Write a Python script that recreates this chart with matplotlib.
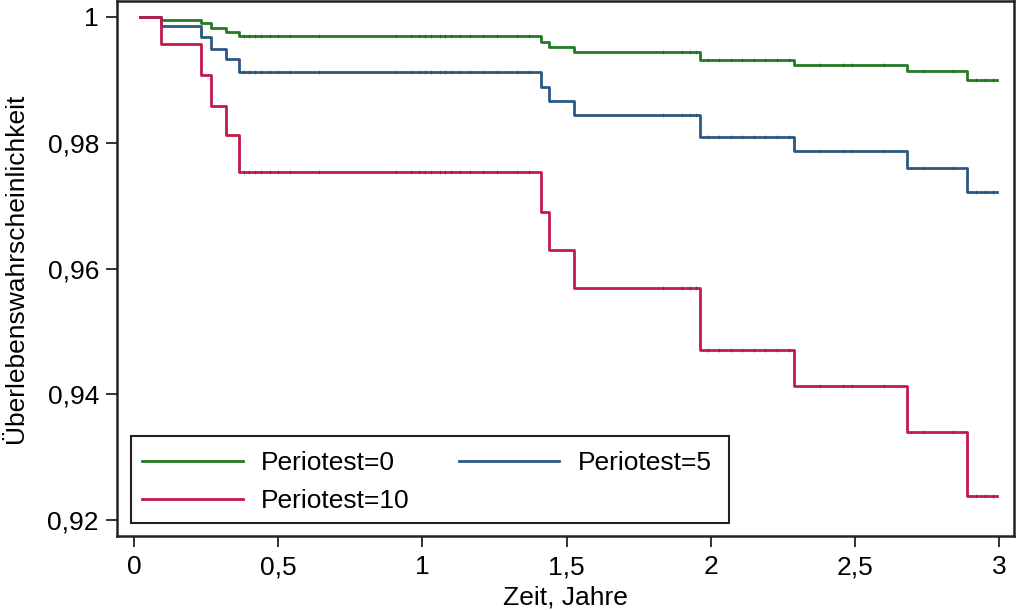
import matplotlib
matplotlib.use("Agg")
import matplotlib.pyplot as plt
from matplotlib.patches import Rectangle
import numpy as np

# Step times (Jahre) and survival estimates
times = [0.02, 0.094, 0.231, 0.267, 0.319, 0.365, 1.41, 1.44, 1.527, 1.963, 2.29, 2.682, 2.888, 2.992]
surv_p0 = [1.0, 0.9995, 0.9990, 0.9982, 0.99757, 0.99687, 0.9960, 0.99518, 0.99438, 0.99305, 0.99232, 0.99141, 0.98998, 0.98998]
surv_p5 = [1.0, 0.99846, 0.99671, 0.99491, 0.99327, 0.9912, 0.98882, 0.98664, 0.98436, 0.98086, 0.97864, 0.97593, 0.97211, 0.97211]
surv_p10 = [1.0, 0.99566, 0.99077, 0.98584, 0.98128, 0.97535, 0.96894, 0.96294, 0.95684, 0.94703, 0.9413, 0.93404, 0.92386, 0.92386]

# censoring times (small tick marks on the curves)
censor_times = [0.38, 0.40, 0.42, 0.44, 0.47, 0.50, 0.54, 0.64, 0.91, 0.96, 0.99, 1.01, 1.03,
                1.06, 1.08, 1.10, 1.13, 1.165, 1.21, 1.26, 1.33, 1.37, 1.835, 1.90, 1.93, 1.95,
                1.99, 2.03, 2.07, 2.11, 2.15, 2.19, 2.23, 2.27, 2.38, 2.46, 2.49, 2.60, 2.74,
                2.84, 2.92, 2.95, 2.98]

labels = ["Periotest=0", "Periotest=5", "Periotest=10"]
colors = ["#237a23", "#2b5883", "#c21a4a"]

xticks = [0, 0.5, 1, 1.5, 2, 2.5, 3]
xticklabels = ["0", "0,5", "1", "1,5", "2", "2,5", "3"]
yticks = [0.92, 0.94, 0.96, 0.98, 1.0]
yticklabels = ["0,92", "0,94", "0,96", "0,98", "1"]

plt.rcParams['font.family'] = ['Liberation Sans', 'DejaVu Sans']
FS = 19
W, H = 1016, 610

fig = plt.figure(figsize=(W / 100, H / 100), dpi=100)
ax = fig.add_axes([117/W, 1 - 536/H, (1014-117)/W, (536-1)/H])

series = [surv_p0, surv_p5, surv_p10]
handles = []
for s, lab, c in zip(series, labels, colors):
    h, = ax.step(times, s, where='post', color=c, lw=2.0, label=lab)
    handles.append(h)
    ct = np.array(censor_times)
    idx = np.searchsorted(times, ct, side='right') - 1
    cy = np.array(s)[idx]
    ax.plot(ct, cy, linestyle='none', marker='|', markersize=3, color='#333333', alpha=0.45, mew=0.8)

ax.set_xlim(-0.059, 3.052)
ax.set_ylim(0.9175, 1.0025)
ax.set_xticks(xticks)
ax.set_xticklabels(xticklabels)
ax.set_yticks(yticks)
ax.set_yticklabels(yticklabels)
ax.tick_params(axis='both', direction='out', length=8, width=1.3, labelsize=FS, color='#222222')
ax.tick_params(axis='y', pad=5)
ax.tick_params(axis='x', pad=6)
for sp in ax.spines.values():
    sp.set_linewidth(1.8)
    sp.set_color('#222222')

ax.set_xlabel("Zeit, Jahre", fontsize=FS, labelpad=4)
ax.set_ylabel("Überlebenswahrscheinlichkeit", fontsize=FS, labelpad=14)

leg = ax.legend(handles=[handles[0], handles[2], handles[1]],
                labels=[labels[0], labels[2], labels[1]],
                ncol=2, loc='upper left', bbox_to_anchor=(127/W, 1 - 436/H),
                bbox_transform=fig.transFigure, fontsize=FS,
                frameon=False, handlelength=3.8,
                handletextpad=0.7, columnspacing=1.86, borderpad=0.58, labelspacing=0.53,
                borderaxespad=0)
for line in leg.get_lines():
    line.set_linewidth(2.0)

frame = Rectangle((131/W, 1 - 523/H), (729-131)/W, (523-436)/H, transform=fig.transFigure,
                  fill=True, facecolor='white', edgecolor='#222222', lw=1.5, zorder=4)
ax.add_artist(frame)
frame.set_clip_on(False)
leg.set_zorder(5)

fig.savefig("out.png", dpi=100)
